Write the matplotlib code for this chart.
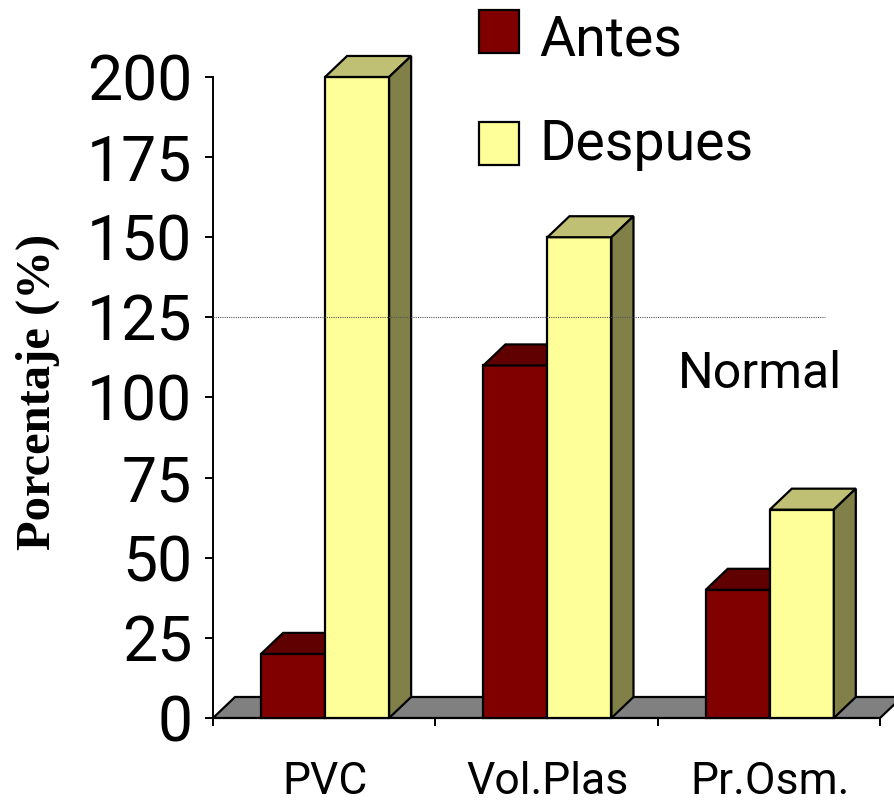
import matplotlib
matplotlib.use("Agg")
import matplotlib.pyplot as plt
from matplotlib.patches import Polygon, Rectangle

# data
categories = ["PVC", "Vol.Plas", "Pr.Osm."]
antes = [20, 110, 40]
despues = [200, 150, 65]
normal_level = 125
yticks = [0, 25, 50, 75, 100, 125, 150, 175, 200]
series_labels = ["Antes", "Despues"]

# colours (front, top, side)
c_antes = ("#800000", "#600000", "#400000")
c_desp = ("#FFFF99", "#C0C074", "#808048")
c_floor = "#808080"

plt.rcParams["font.family"] = ["Roboto", "DejaVu Sans"]

fig = plt.figure(figsize=(8.94, 8.06), dpi=100)
ax = fig.add_axes([0.2383, 0.1092, 0.7461, 0.7953])
ax.set_xlim(0, len(categories))
ax.set_ylim(0, 200)

dx, dy = 0.099, 6.55   # depth of the fake 3d
bw = 0.288
lw = 1.6


def poly(pts, fc, z):
    ax.add_patch(Polygon(pts, closed=True, fc=fc, ec="black", lw=lw,
                         joinstyle="miter", clip_on=False, zorder=z))


def bar3d(x0, h, cols, z):
    x1 = x0 + bw
    poly([(x0, 0), (x1, 0), (x1, h), (x0, h)], cols[0], z)
    poly([(x0, h), (x1, h), (x1 + dx, h + dy), (x0 + dx, h + dy)], cols[1], z)
    poly([(x1, 0), (x1 + dx, dy), (x1 + dx, h + dy), (x1, h)], cols[2], z)


# floor
n = len(categories)
poly([(0, 0), (n, 0), (n + dx, dy), (dx, dy)], c_floor, 1)

for i in range(n):
    mid = i + 0.504
    bar3d(mid - bw, antes[i], c_antes, 3)
    bar3d(mid, despues[i], c_desp, 4)

# normal reference line
ax.hlines(normal_level, 0, 2.753, colors="#555555", lw=0.8,
          linestyles=(0, (1, 1)), zorder=6)
ax.text(2.092, 103.0, "Normal", fontsize=36, ha="left", va="baseline")

# axes styling
for s in ("top", "right"):
    ax.spines[s].set_visible(False)
for s in ("left", "bottom"):
    ax.spines[s].set_linewidth(1.4)
    ax.spines[s].set_zorder(2)

ax.set_yticks(yticks)
ax.tick_params(axis="y", direction="out", length=6, width=1.4, pad=9,
               labelsize=45)
ax.set_xticks(range(n + 1))
ax.set_xticklabels([])
ax.tick_params(axis="x", which="major", direction="out", length=6, width=1.4)
ax.set_xticks([i + 0.504 for i in range(n)], minor=True)
ax.set_xticklabels(categories, minor=True)
ax.tick_params(axis="x", which="minor", length=0, pad=31, labelsize=32)

fig.text(38 / 894, 1 - 392 / 806, "Porcentaje (%)", rotation=90,
         ha="center", va="center", fontsize=35, fontweight="bold",
         family="Liberation Serif")

# legend drawn by hand to match spacing
for k, (lab, cols) in enumerate(zip(series_labels, (c_antes, c_desp))):
    top_px = 10 + 112 * k
    fig.patches.append(Rectangle((479 / 894, 1 - (top_px + 43) / 806),
                                 40 / 894, 43 / 806, transform=fig.transFigure,
                                 fc=cols[0], ec="black", lw=1.6))
    fig.text(539 / 894, 1 - (55 + 105 * k) / 806, lab, fontsize=40,
             ha="left", va="baseline")

fig.savefig("out.png", dpi=100)
